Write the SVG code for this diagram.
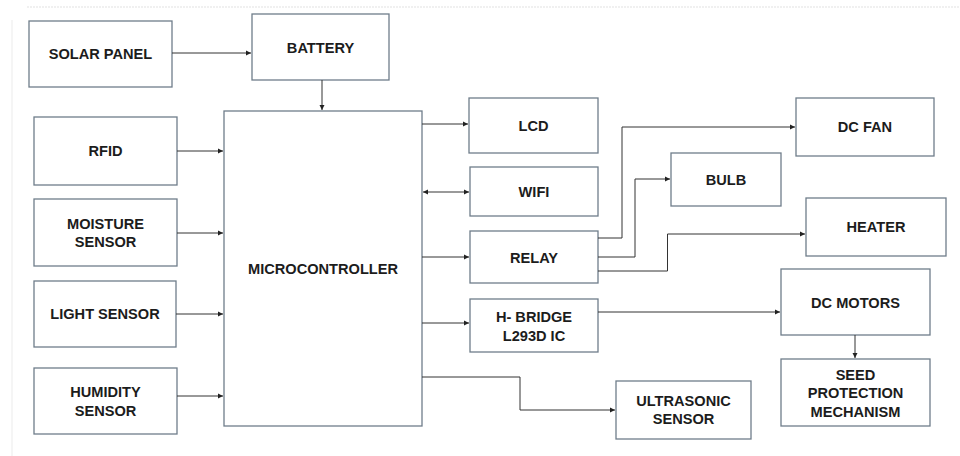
<svg xmlns="http://www.w3.org/2000/svg" width="960" height="456" viewBox="0 0 960 456">
<defs>
<marker id="ah" markerWidth="6" markerHeight="6" refX="5" refY="3" orient="auto" markerUnits="userSpaceOnUse"><path d="M0,0.5 L5,3 L0,5.5 Z" fill="#222"/></marker>
<marker id="ahs" markerWidth="6" markerHeight="6" refX="1" refY="3" orient="auto" markerUnits="userSpaceOnUse"><path d="M6,0.5 L1,3 L6,5.5 Z" fill="#222"/></marker>
<style>
.box{fill:#fff;stroke:#6f7d8a;stroke-width:1.3}
.t{font-family:"Liberation Sans",Arial,sans-serif;font-weight:bold;font-size:14.6px;fill:#1c1c1c;text-anchor:middle;dominant-baseline:central}
.c{fill:none;stroke:#333;stroke-width:1}
</style>
</defs>
<rect width="960" height="456" fill="#fff"/>
<line x1="27" y1="7" x2="960" y2="7" stroke="#ececec" stroke-width="1.5" stroke-dasharray="2,1"/>
<line x1="12" y1="20" x2="12" y2="456" stroke="#f2f2f2" stroke-width="1.5"/>
<g id="solar"><rect class="box" x="29" y="21" width="143" height="66"/><text class="t" x="100.5" y="54">SOLAR PANEL</text></g>
<g id="battery"><rect class="box" x="252" y="14" width="137" height="66"/><text class="t" x="320.5" y="48">BATTERY</text></g>
<g id="rfid"><rect class="box" x="34" y="117" width="143" height="68"/><text class="t" x="105.5" y="151">RFID</text></g>
<g id="moisture"><rect class="box" x="34" y="199" width="143" height="67"/><text class="t" x="105.5" y="224">MOISTURE</text><text class="t" x="105.5" y="242">SENSOR</text></g>
<g id="light"><rect class="box" x="34" y="281" width="142" height="66"/><text class="t" x="105" y="314">LIGHT SENSOR</text></g>
<g id="humidity"><rect class="box" x="34" y="368" width="143" height="66"/><text class="t" x="105.5" y="392">HUMIDITY</text><text class="t" x="105.5" y="411">SENSOR</text></g>
<g id="mcu"><rect class="box" x="224" y="111" width="198" height="315"/><text class="t" x="323" y="269">MICROCONTROLLER</text></g>
<g id="lcd"><rect class="box" x="469" y="98" width="129" height="55"/><text class="t" x="533.5" y="126">LCD</text></g>
<g id="wifi"><rect class="box" x="470" y="167" width="128" height="49"/><text class="t" x="534" y="192">WIFI</text></g>
<g id="relay"><rect class="box" x="470" y="231" width="128" height="52"/><text class="t" x="534" y="258">RELAY</text></g>
<g id="hbridge"><rect class="box" x="470" y="299" width="128" height="53"/><text class="t" x="534" y="317">H- BRIDGE</text><text class="t" x="534" y="336">L293D IC</text></g>
<g id="ultrasonic"><rect class="box" x="616" y="381" width="135" height="58"/><text class="t" x="683.5" y="401">ULTRASONIC</text><text class="t" x="683.5" y="419">SENSOR</text></g>
<g id="dcfan"><rect class="box" x="796" y="98" width="138" height="58"/><text class="t" x="865" y="127">DC FAN</text></g>
<g id="bulb"><rect class="box" x="671" y="153" width="110" height="53"/><text class="t" x="726" y="180">BULB</text></g>
<g id="heater"><rect class="box" x="806" y="198" width="140" height="58"/><text class="t" x="876" y="227">HEATER</text></g>
<g id="dcmotors"><rect class="box" x="781" y="269" width="149" height="66"/><text class="t" x="855.5" y="303">DC MOTORS</text></g>
<g id="seed"><rect class="box" x="781" y="359" width="149" height="67"/><text class="t" x="855.5" y="375">SEED</text><text class="t" x="855.5" y="393">PROTECTION</text><text class="t" x="855.5" y="412">MECHANISM</text></g>
<g id="connectors">
<path class="c" d="M172,53 H251" marker-end="url(#ah)"/>
<path class="c" d="M322,80 V110" marker-end="url(#ah)"/>
<path class="c" d="M177,151 H223" marker-end="url(#ah)"/>
<path class="c" d="M177,233 H223" marker-end="url(#ah)"/>
<path class="c" d="M176,314 H223" marker-end="url(#ah)"/>
<path class="c" d="M177,396 H223" marker-end="url(#ah)"/>
<path class="c" d="M422,124 H468" marker-end="url(#ah)"/>
<path d="M423,192 H469" fill="none" stroke="#9a9a9a" stroke-width="2" marker-start="url(#ahs)" marker-end="url(#ah)"/>
<path class="c" d="M422,257 H469" marker-end="url(#ah)"/>
<path class="c" d="M422,323 H469" marker-end="url(#ah)"/>
<path class="c" d="M422,377 H520 V410 H615" marker-end="url(#ah)"/>
<path class="c" d="M598,238 H622 V127 H795" marker-end="url(#ah)"/>
<path class="c" d="M598,257 H635 V179 H670" marker-end="url(#ah)"/>
<path class="c" d="M598,271 H667.5 V234 H805" marker-end="url(#ah)"/>
<path class="c" d="M598,312 H780" marker-end="url(#ah)"/>
<path class="c" d="M855,335 V358" marker-end="url(#ah)"/>
</g>
</svg>
